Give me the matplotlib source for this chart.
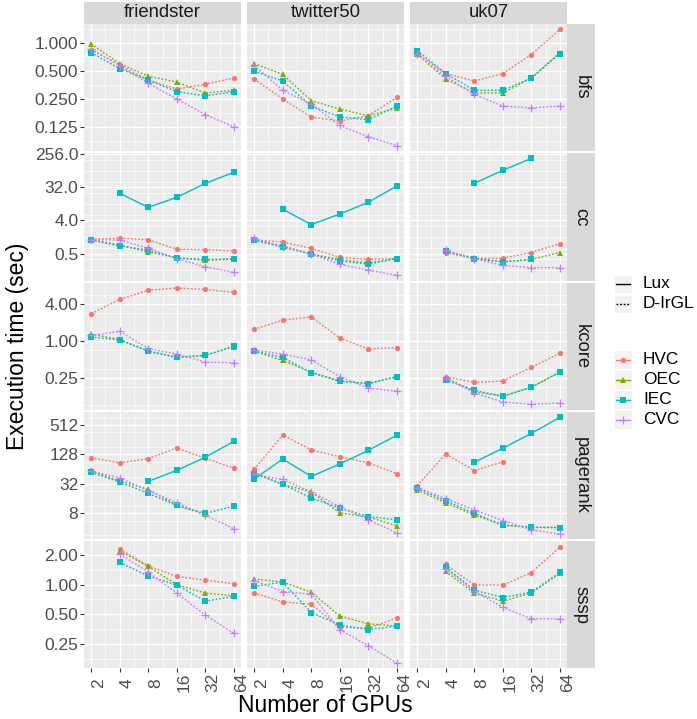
import numpy as np
import matplotlib
matplotlib.use('Agg')
import matplotlib.pyplot as plt
from matplotlib.patches import Rectangle
from matplotlib.ticker import FixedLocator, NullFormatter

plt.rcParams['font.family'] = ['Liberation Sans', 'DejaVu Sans']

nan = np.nan
gpus = [2, 4, 8, 16, 32, 64]
graphs = ['friendster', 'twitter50', 'uk07']
algos = ['bfs', 'cc', 'kcore', 'pagerank', 'sssp']
policies = ['HVC', 'OEC', 'IEC', 'CVC']

# D-IrGL times (sec), one dict per (algo, graph)
bfs_friendster = {'HVC': [0.85, 0.58, 0.40, 0.32, 0.36, 0.42], 'OEC': [0.98, 0.60, 0.44, 0.38, 0.29, 0.31],
                  'IEC': [0.79, 0.53, 0.40, 0.30, 0.27, 0.30], 'CVC': [0.86, 0.57, 0.37, 0.25, 0.17, 0.125]}
bfs_twitter50 = {'HVC': [0.41, 0.25, 0.16, 0.145, 0.165, 0.26], 'OEC': [0.60, 0.46, 0.24, 0.195, 0.165, 0.20],
                 'IEC': [0.50, 0.39, 0.21, 0.16, 0.15, 0.21], 'CVC': [0.575, 0.31, 0.22, 0.13, 0.098, 0.079]}
bfs_uk07 = {'HVC': [0.77, 0.47, 0.39, 0.47, 0.75, 1.4], 'OEC': [0.76, 0.41, 0.29, 0.29, 0.42, 0.79],
            'IEC': [0.83, 0.47, 0.31, 0.31, 0.42, 0.77], 'CVC': [0.76, 0.44, 0.28, 0.21, 0.20, 0.21]}

cc_friendster = {'HVC': [1.23, 1.34, 1.2, 0.66, 0.65, 0.59], 'OEC': [1.2, 0.86, 0.56, 0.39, 0.33, 0.36],
                 'IEC': [1.18, 0.81, 0.63, 0.38, 0.35, 0.36], 'CVC': [1.2, 1.18, 0.70, 0.37, 0.22, 0.156]}
cc_twitter50 = {'HVC': [1.18, 1.04, 0.70, 0.40, 0.35, 0.37], 'OEC': [1.15, 0.81, 0.49, 0.35, 0.28, 0.37],
                'IEC': [1.18, 0.75, 0.49, 0.32, 0.26, 0.37], 'CVC': [1.3, 0.78, 0.49, 0.26, 0.18, 0.13]}
cc_uk07 = {'HVC': [nan, 0.54, 0.37, 0.38, 0.54, 0.94], 'OEC': [nan, 0.60, 0.38, 0.30, 0.35, 0.54],
           'IEC': [nan, 0.58, 0.36, 0.30, 0.35, nan], 'CVC': [nan, 0.62, 0.37, 0.24, 0.21, 0.21]}

kcore_friendster = {'HVC': [2.8, 4.8, 6.8, 7.4, 7.0, 6.3], 'OEC': [1.3, 1.06, 0.68, 0.54, 0.58, 0.81],
                    'IEC': [1.16, 1.04, 0.68, 0.54, 0.58, 0.82], 'CVC': [1.24, 1.44, 0.75, 0.61, 0.45, 0.44]}
kcore_twitter50 = {'HVC': [1.56, 2.19, 2.48, 1.12, 0.74, 0.78], 'OEC': [0.68, 0.48, 0.31, 0.22, 0.20, 0.26],
                   'IEC': [0.68, 0.54, 0.30, 0.22, 0.20, 0.26], 'CVC': [0.71, 0.61, 0.49, 0.26, 0.17, 0.15]}
kcore_uk07 = {'HVC': [nan, 0.26, 0.21, 0.22, 0.37, 0.63], 'OEC': [nan, 0.25, 0.148, 0.124, 0.174, 0.31],
              'IEC': [nan, 0.23, 0.155, 0.124, 0.174, 0.31], 'CVC': [nan, 0.25, 0.14, 0.10, 0.092, 0.096]}

pagerank_friendster = {'HVC': [110, 86, 105, 173, 107, 67], 'OEC': [58.5, 36.8, 24.8, 11.6, 7.6, nan],
                       'IEC': [55, 35, 20.5, 11.6, 8, 11.2], 'CVC': [58, 42.7, 23.3, 13.2, 7.3, 3.9]}
pagerank_twitter50 = {'HVC': [63.5, 320, 158, 115, 86, 52], 'OEC': [55, 31.3, 22, 8.2, 6.8, 4.4],
                      'IEC': [52, 31.5, 16.5, 10.3, 6.9, 5.9], 'CVC': [50, 39.6, 22, 10.9, 5.9, 3.2]}
pagerank_uk07 = {'HVC': [29, 131, 60, 90, nan, nan], 'OEC': [24, 13.2, 7.4, 4.6, 4.1, 4.1],
                 'IEC': [26, 14.5, 8, 4.6, 4.2, 4.1], 'CVC': [27, 16, 9.4, 5.7, 3.7, 3.0]}

sssp_friendster = {'HVC': [nan, 2.3, 1.55, 1.21, 1.11, 1.02], 'OEC': [nan, 2.2, 1.53, 1.0, 0.82, 0.77],
                   'IEC': [nan, 1.68, 1.22, 0.99, 0.68, 0.76], 'CVC': [nan, 2.05, 1.34, 0.82, 0.49, 0.32]}
sssp_twitter50 = {'HVC': [0.82, 0.67, 0.63, 0.37, 0.36, 0.46], 'OEC': [1.14, 1.06, 0.84, 0.48, 0.40, 0.38],
                  'IEC': [0.96, 1.06, 0.52, 0.39, 0.35, 0.38], 'CVC': [1.1, 0.85, 0.80, 0.35, 0.24, 0.16]}
sssp_uk07 = {'HVC': [nan, 1.6, 0.99, 0.99, 1.32, 2.4], 'OEC': [nan, 1.36, 0.82, 0.68, 0.82, 1.3],
             'IEC': [nan, 1.5, 0.88, 0.74, 0.84, 1.33], 'CVC': [nan, 1.45, 0.86, 0.59, 0.45, 0.45]}

# Lux times (only IEC)
cc_friendster_lux = [nan, 21.9, 9.1, 17, 40.8, 81.6]
cc_twitter50_lux = [nan, 8.1, 3.1, 6.0, 12.5, 34.6]
cc_uk07_lux = [nan, nan, 40.9, 92, 195, nan]
pagerank_friendster_lux = [nan, nan, 36, 60.5, 112, 237]
pagerank_twitter50_lux = [40, 103, 45.5, 81.6, 155, 315]
pagerank_uk07_lux = [nan, nan, 88, 171, 345, 735]

dirgl = {
    ('bfs', 'friendster'): bfs_friendster, ('bfs', 'twitter50'): bfs_twitter50, ('bfs', 'uk07'): bfs_uk07,
    ('cc', 'friendster'): cc_friendster, ('cc', 'twitter50'): cc_twitter50, ('cc', 'uk07'): cc_uk07,
    ('kcore', 'friendster'): kcore_friendster, ('kcore', 'twitter50'): kcore_twitter50, ('kcore', 'uk07'): kcore_uk07,
    ('pagerank', 'friendster'): pagerank_friendster, ('pagerank', 'twitter50'): pagerank_twitter50,
    ('pagerank', 'uk07'): pagerank_uk07,
    ('sssp', 'friendster'): sssp_friendster, ('sssp', 'twitter50'): sssp_twitter50, ('sssp', 'uk07'): sssp_uk07,
}
lux = {
    ('cc', 'friendster'): cc_friendster_lux, ('cc', 'twitter50'): cc_twitter50_lux, ('cc', 'uk07'): cc_uk07_lux,
    ('pagerank', 'friendster'): pagerank_friendster_lux, ('pagerank', 'twitter50'): pagerank_twitter50_lux,
    ('pagerank', 'uk07'): pagerank_uk07_lux,
}

# y scale per row: major breaks (log2 exponents), labels, limits (log2)
ybreaks = {
    'bfs': ([-3, -2, -1, 0], ['0.125', '0.250', '0.500', '1.000'], (-3.857, 0.679)),
    'cc': ([-1, 2, 5, 8], ['0.5', '4.0', '32.0', '256.0'], (-3.46, 8.09)),
    'kcore': ([-2, 0, 2], ['0.25', '1.00', '4.00'], (-3.76, 3.16)),
    'pagerank': ([3, 5, 7, 9], ['8', '32', '128', '512'], (1.26, 9.88)),
    'sssp': ([-2, -1, 0, 1], ['0.25', '0.50', '1.00', '2.00'], (-2.81, 1.47)),
}

colors = {'HVC': '#F8766D', 'OEC': '#7CAE00', 'IEC': '#00BFC4', 'CVC': '#C77CFF'}
markers = {'HVC': ('o', 3.8, 0), 'OEC': ('^', 4.6, 0), 'IEC': ('s', 4.7, 0), 'CVC': ('+', 6.0, 0.9)}
dotted = (0, (1.3, 1.3))

W, H = 697, 719
fig = plt.figure(figsize=(W / 100, H / 100), dpi=100)


def rect(x0, y0, x1, y1):
    return [x0 / W, 1 - y1 / H, (x1 - x0) / W, (y1 - y0) / H]


cols_px = [(84, 241), (247, 404), (410, 567)]
rows_px = [(24, 151), (153, 281), (283, 410), (412, 539), (541, 668)]

for i, algo in enumerate(algos):
    maj, labs, (lo, hi) = ybreaks[algo]
    minor = [m + 0.5 for m in range(int(np.floor(lo)) - 1, int(np.ceil(hi)) + 1)]
    minor = [2.0 ** m for m in minor if lo < m < hi]
    for j, g in enumerate(graphs):
        x0, x1 = cols_px[j]
        y0, y1 = rows_px[i]
        ax = fig.add_axes(rect(x0, y0, x1, y1))
        ax.set_facecolor('#EBEBEB')
        for s in ax.spines.values():
            s.set_visible(False)
        ax.set_xscale('log', base=2)
        ax.set_yscale('log', base=2)
        ax.set_xlim(2 ** 0.75, 2 ** 6.25)
        ax.set_ylim(2 ** lo, 2 ** hi)
        ax.xaxis.set_major_locator(FixedLocator(gpus))
        ax.xaxis.set_minor_locator(FixedLocator([2 ** (k + 0.5) for k in range(1, 6)]))
        ax.yaxis.set_major_locator(FixedLocator([2.0 ** m for m in maj]))
        ax.yaxis.set_minor_locator(FixedLocator(minor))
        ax.xaxis.set_minor_formatter(NullFormatter())
        ax.yaxis.set_minor_formatter(NullFormatter())
        ax.grid(which='major', color='white', lw=1.0)
        ax.grid(which='minor', color='white', lw=0.5)
        ax.set_axisbelow(True)
        ax.tick_params(which='minor', length=0)
        ax.tick_params(which='major', length=2.6, width=0.8, color='#333333',
                       labelcolor='#4D4D4D', labelsize=12.5)
        if j == 0:
            ax.set_yticklabels(labs)
            ax.tick_params(axis='y', pad=1.5)
        else:
            ax.tick_params(axis='y', length=0, labelleft=False)
        if i == len(algos) - 1:
            ax.set_xticklabels([str(v) for v in gpus], rotation=90, va='center', ha='left')
            ax.tick_params(axis='x', pad=8)
        else:
            ax.tick_params(axis='x', length=0, labelbottom=False)

        data = dirgl[(algo, g)]
        # lines first, then points
        for p in policies:
            ax.plot(gpus, data[p], color=colors[p], lw=1.0, ls=dotted, zorder=2)
        if (algo, g) in lux:
            ax.plot(gpus, lux[(algo, g)], color=colors['IEC'], lw=1.0, ls='-', zorder=2)
        for p in policies:
            m, ms, mew = markers[p]
            ax.plot(gpus, data[p], ls='none', marker=m, ms=ms, mew=mew,
                    color=colors[p], zorder=3)
        if (algo, g) in lux:
            m, ms, mew = markers['IEC']
            ax.plot(gpus, lux[(algo, g)], ls='none', marker=m, ms=ms, mew=mew,
                    color=colors['IEC'], zorder=3)

    # right strip
    sax = fig.add_axes(rect(567, rows_px[i][0], 595, rows_px[i][1]))
    sax.set_facecolor('#D9D9D9')
    sax.set_xticks([]); sax.set_yticks([])
    for s in sax.spines.values():
        s.set_visible(False)
    sax.text(0.5, 0.5, algo, rotation=-90, ha='center', va='center',
             fontsize=13.3, color='#1A1A1A', transform=sax.transAxes)

for j, g in enumerate(graphs):
    tax = fig.add_axes(rect(cols_px[j][0], 2, cols_px[j][1], 23.5))
    tax.set_facecolor('#D9D9D9')
    tax.set_xticks([]); tax.set_yticks([])
    for s in tax.spines.values():
        s.set_visible(False)
    tax.text(0.5, 0.5, g, ha='center', va='center', fontsize=13.3,
             color='#1A1A1A', transform=tax.transAxes)

fig.text(18 / W, 1 - 346 / H, 'Execution time (sec)', rotation=90, ha='center',
         va='center', fontsize=16.5)
fig.text(325.5 / W, 1 - 706 / H, 'Number of GPUs', ha='center', va='center', fontsize=16.5)

# legend
lax = fig.add_axes(rect(598, 260, 697, 440))
lax.set_xlim(598, 697)
lax.set_ylim(440, 260)
lax.axis('off')
for label, yc, ls in [('Lux', 284, '-'), ('D-IrGL', 304, ':')]:
    lax.add_patch(Rectangle((614, yc - 9), 18, 18, facecolor='#F2F2F2', edgecolor='white', lw=0.8))
    lax.plot([616, 630], [yc, yc], color='black', lw=1.0, ls='-' if ls == '-' else dotted)
    lax.text(643, yc, label, va='center', ha='left', fontsize=12.4)
for p, yc in zip(policies, [360, 380, 400, 420]):
    lax.add_patch(Rectangle((614, yc - 9.5), 18, 19, facecolor='#F2F2F2', edgecolor='white', lw=0.8))
    m, ms, mew = markers[p]
    lax.plot([616, 630], [yc, yc], color=colors[p], lw=1.0)
    lax.plot([623], [yc], marker=m, ms=ms, mew=mew, color=colors[p], ls='none')
    lax.text(643, yc, p, va='center', ha='left', fontsize=12.4)

fig.savefig('out.png', dpi=100)
